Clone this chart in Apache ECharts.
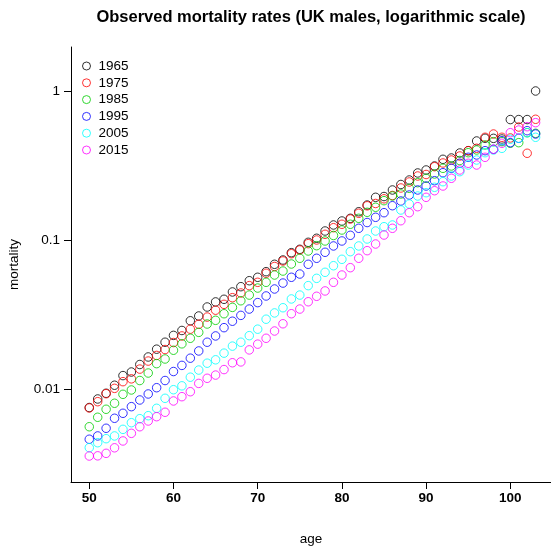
<!DOCTYPE html>
<html>
<head>
<meta charset="utf-8">
<script src="https://cdn.jsdelivr.net/npm/echarts@6/dist/echarts.min.js"></script>
<style>
html,body{margin:0;padding:0;background:#fff;}
#chart{width:551px;height:547px;}
</style>
</head>
<body>
<div id="chart"></div>
<script>
// ages 50..103
const ages = [50,51,52,53,54,55,56,57,58,59,60,61,62,63,64,65,66,67,68,69,70,71,72,73,74,75,76,77,78,79,80,81,82,83,84,85,86,87,88,89,90,91,92,93,94,95,96,97,98,99,100,101,102,103];

const years = ['1965','1975','1985','1995','2005','2015'];
const colors = ['#000000','#FF0000','#00CD00','#0000FF','#00FFFF','#FF00FF'];

const m1965 = [0.00751,0.00857,0.00936,0.0106,0.0123,0.0130,0.0146,0.0164,0.0185,0.0206,0.0229,0.0247,0.0287,0.0309,0.0355,0.0384,0.0400,0.0448,0.0486,0.0533,0.0562,0.0613,0.0687,0.0734,0.0822,0.0866,0.0965,0.1027,0.1149,0.1261,0.1341,0.1398,0.1548,0.1717,0.1934,0.1958,0.2166,0.2358,0.2527,0.2817,0.2950,0.3139,0.3480,0.3550,0.3836,0.3975,0.4618,0.4816,0.481,0.4763,0.643,0.643,0.643,1.0];
const m1975 = [0.00746,0.00822,0.0093,0.0101,0.0112,0.0117,0.0136,0.0154,0.0168,0.0184,0.0205,0.0227,0.0252,0.0272,0.0304,0.0338,0.0370,0.0410,0.0441,0.0494,0.0520,0.0598,0.0664,0.0723,0.0809,0.0857,0.0945,0.1000,0.1092,0.1209,0.1275,0.1383,0.1511,0.1696,0.1758,0.1890,0.1989,0.2234,0.2451,0.2689,0.2752,0.3104,0.3287,0.3442,0.3663,0.3975,0.4125,0.489,0.5145,0.489,0.484,0.573,0.382,0.646];
const m1985 = [0.00558,0.00646,0.00731,0.00802,0.00921,0.00985,0.0114,0.0128,0.0148,0.0159,0.0182,0.0201,0.0219,0.0240,0.0273,0.0289,0.0320,0.0353,0.0391,0.0427,0.0476,0.0520,0.0582,0.0619,0.0690,0.0754,0.0844,0.0916,0.0985,0.1072,0.1167,0.1275,0.1398,0.1534,0.1658,0.1836,0.1974,0.2036,0.2223,0.2425,0.2595,0.2773,0.3028,0.3139,0.3416,0.3854,0.4018,0.4341,0.4568,0.457,0.4457,0.450,0.525,0.520];
const m1995 = [0.00460,0.00484,0.00545,0.00636,0.00687,0.00761,0.00844,0.00926,0.0102,0.0114,0.0131,0.0144,0.0161,0.0180,0.0206,0.0227,0.0258,0.0285,0.0312,0.0344,0.0380,0.0421,0.0469,0.0514,0.0562,0.0591,0.0687,0.0754,0.0827,0.0912,0.0985,0.1075,0.1198,0.1310,0.1420,0.1525,0.1699,0.1827,0.2004,0.2166,0.2304,0.2500,0.2829,0.3028,0.3272,0.3589,0.3720,0.3975,0.4062,0.4639,0.450,0.4816,0.5415,0.5145];
const m2005 = [0.00404,0.00436,0.00464,0.00484,0.00536,0.00594,0.00632,0.00662,0.00742,0.00866,0.00989,0.0105,0.0120,0.0134,0.0149,0.0157,0.0174,0.0194,0.0206,0.0228,0.0252,0.0294,0.0324,0.0351,0.0402,0.0427,0.0494,0.0553,0.0607,0.0672,0.0742,0.0835,0.0912,0.1016,0.1149,0.1228,0.1261,0.1590,0.1744,0.1974,0.2077,0.2258,0.2462,0.2689,0.2874,0.3186,0.3442,0.3854,0.4018,0.4125,0.474,0.4816,0.525,0.489];
const m2015 = [0.00355,0.00356,0.00370,0.00403,0.00448,0.00504,0.00558,0.00610,0.00652,0.00698,0.00831,0.00888,0.00959,0.0109,0.0118,0.0124,0.0135,0.0150,0.0152,0.0183,0.0200,0.0219,0.0245,0.0274,0.0320,0.0344,0.0385,0.0419,0.0455,0.0520,0.0582,0.0652,0.0754,0.0848,0.0940,0.1080,0.1198,0.1347,0.1525,0.1673,0.1934,0.2142,0.2304,0.2595,0.2950,0.3272,0.3186,0.3589,0.4062,0.4457,0.525,0.547,0.576,0.613];

const xTicks = [50,60,70,80,90,100];
const yTicks = [0.01,0.1,1];

const seriesValues = [m1965,m1975,m1985,m1995,m2005,m2015];
const FONT = '"Liberation Sans", Arial, Helvetica, sans-serif';

const chart = echarts.init(document.getElementById('chart'), null, {renderer:'canvas'});

const series = years.map((y,i) => ({
  name: y,
  type: 'scatter',
  symbol: 'circle',
  symbolSize: 8.5,
  data: ages.map((a,j) => [a, Math.log10(seriesValues[i][j])]),
  itemStyle: {color: 'rgba(0,0,0,0)', borderColor: colors[i], borderWidth: 1},
  emphasis: {disabled: true},
  animation: false
}));

chart.setOption({
  animation: false,
  backgroundColor: '#ffffff',
  title: {
    text: 'Observed mortality rates (UK males, logarithmic scale)',
    left: 306, top: 4, textAlign: 'center',
    textStyle: {fontFamily: FONT, fontWeight: 'bold', fontSize: 16.5, color: '#000'}
  },
  legend: {
    orient: 'vertical',
    left: 77, top: 54,
    itemWidth: 14, itemHeight: 8,
    itemGap: 2.8,
    textStyle: {fontFamily: FONT, fontSize: 13.5, color: '#000', lineHeight: 14},
    data: years.map((y,i) => ({name: y, icon: 'circle',
      itemStyle: {color: 'rgba(0,0,0,0)', borderColor: colors[i], borderWidth: 1}}))
  },
  grid: {left: 71, right: 0, top: 47, bottom: 65, containLabel: false, outerBoundsMode: 'none'},
  xAxis: {
    type: 'value',
    min: 47.83, max: 104.83,
    name: 'age', nameLocation: 'middle', nameGap: 50,
    nameTextStyle: {fontFamily: FONT, fontSize: 13.5, color: '#000'},
    axisLine: {show: true, onZero: false, lineStyle: {color: '#000', width: 1}},
    axisTick: {show: true, inside: false, length: 7, customValues: xTicks, lineStyle: {color: '#000'}},
    axisLabel: {customValues: xTicks, margin: 9, fontFamily: FONT, fontSize: 13.5, fontWeight: 'bold', color: '#000'},
    splitLine: {show: false}
  },
  yAxis: {
    type: 'value',
    min: -2.6242, max: 0.2953,
    name: 'mortality', nameLocation: 'middle', nameGap: 50, nameRotate: 90,
    nameTextStyle: {fontFamily: FONT, fontSize: 13.5, color: '#000'},
    axisLine: {show: true, onZero: false, lineStyle: {color: '#000', width: 1}},
    axisTick: {show: true, inside: false, length: 7, customValues: yTicks.map(v => Math.log10(v)), lineStyle: {color: '#000'}},
    axisLabel: {customValues: yTicks.map(v => Math.log10(v)), margin: 11, fontFamily: FONT, fontSize: 13.5, color: '#000',
      formatter: v => String(+Math.pow(10, v).toPrecision(1))},
    splitLine: {show: false}
  },
  series: series
});
</script>
</body>
</html>
